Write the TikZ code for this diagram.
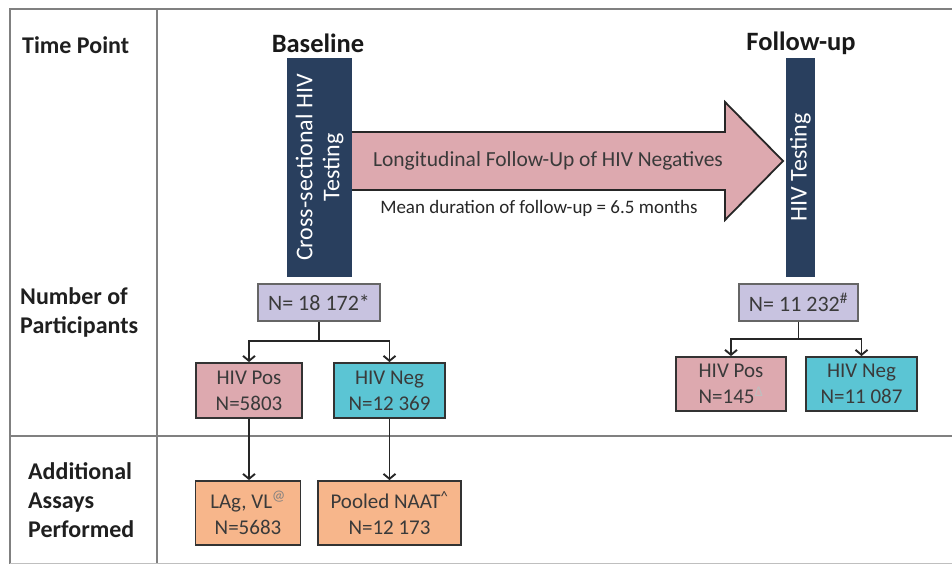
\documentclass[tikz,border=0pt]{standalone}
\usepackage{fontspec}
\setmainfont{Carlito}
\usetikzlibrary{arrows.meta}
\definecolor{navy}{HTML}{293F5E}
\definecolor{pinkc}{HTML}{DDA9AF}
\definecolor{lav}{HTML}{C8C3E0}
\definecolor{cyanc}{HTML}{5BC5D4}
\definecolor{orng}{HTML}{F7B68B}
\definecolor{framec}{HTML}{808080}
\definecolor{txt}{HTML}{3A3A3A}
\tikzset{
  frameline/.style={draw=framec, line width=2.2pt},
  hdr/.style={font=\fontsize{26.5}{30}\selectfont\bfseries, text=black!90},
  rowlbl/.style={font=\fontsize{24}{29}\selectfont\bfseries, text=black!88, align=left, anchor=west, inner sep=0pt},
  bar/.style={fill=navy, draw=none, inner sep=0pt},
  bartext/.style={font=\fontsize{24}{27}\selectfont, text=white, align=center, rotate=90},
  box/.style={draw=black!80, line width=1.8pt, inner sep=0pt, align=center, text=txt, font=\fontsize{21}{26}\selectfont},
  nbox/.style={box, fill=lav, draw=black!60, font=\fontsize{22}{26}\selectfont},
  posbox/.style={box, fill=pinkc},
  negbox/.style={box, fill=cyanc},
  assaybox/.style={box, fill=orng},
  conn/.style={draw=black!85, line width=1.9pt},
  arr/.style={conn, -{Straight Barb[length=5pt,width=12pt,line width=1.9pt]}},
}
\begin{document}
\begin{tikzpicture}[x=1pt,y=-1pt]
\useasboundingbox (0,0) rectangle (952,564);
% frame
\draw[frameline] (10,564) -- (10,9) -- (952,9);
\draw[frameline] (157,9) -- (157,564);
\draw[frameline] (10,436) -- (952,436);
\draw[draw=framec!50, line width=1pt] (10,563.5) -- (952,563.5);
% row labels
\node[rowlbl] (tp) at (22,45) {Time Point};
\node[rowlbl] (np) at (20,312.5) {Number of\\Participants};
\node[rowlbl] (aa) at (28,500.5) {Additional\\Assays\\Performed};
% headers
\node[hdr] (bl) at (318,43) {Baseline};
\node[hdr] (fu) at (801,43) {Follow-up};
% big arrow
\draw[fill=pinkc, draw=black!85, line width=1.8pt, line join=miter]
  (345,132) -- (725,132) -- (725,102) -- (783,161) -- (725,220) -- (725,190) -- (345,190) -- cycle;
\node[font=\fontsize{21.5}{25}\selectfont, text=txt] (lf) at (548,161) {Longitudinal Follow-Up of HIV Negatives};
\node[font=\fontsize{19}{22}\selectfont, text=black!85] (md) at (539,208) {Mean duration of follow-up = 6.5 months};
% bars
\node[bar, minimum width=65pt, minimum height=219pt] (b1) at (319.5,167.5) {};
\node[bartext] at (b1.center) {Cross-sectional HIV\\Testing};
\node[bar, minimum width=29pt, minimum height=219pt] (b2) at (800.5,167.5) {};
\node[bartext] at (b2.center) {HIV Testing};
% baseline boxes
\node[nbox, minimum width=122pt, minimum height=37pt] (nA) at (319,302.5) {N= 18 172*};
\node[posbox, minimum width=106pt, minimum height=55pt] (pos1) at (249,390.5) {HIV Pos\\N=5803};
\node[negbox, minimum width=111pt, minimum height=55pt] (neg1) at (389.5,390.5) {HIV Neg\\N=12 369};
\node[assaybox, minimum width=105pt, minimum height=64pt] (lag) at (248,513) {LAg, VL\textsuperscript{\textcolor{gray}{@}}\\N=5683};
\node[assaybox, minimum width=143pt, minimum height=64pt] (naat) at (389.5,513) {Pooled NAAT\textsuperscript{\textasciicircum}\\N=12 173};
% follow-up boxes
\node[nbox, minimum width=119pt, minimum height=37pt] (nB) at (798.5,302.5) {N= 11 232\textsuperscript{\#}};
\node[posbox, minimum width=110pt, minimum height=54pt] (pos2) at (731,384) {HIV Pos\\N=145\textsuperscript{\textcolor{lightgray}{Δ}}};
\node[negbox, minimum width=111pt, minimum height=54pt] (neg2) at (861.5,384) {HIV Neg\\N=11 087};
% connectors
\coordinate (j1) at (319,341);
\draw[conn] (nA.south) -- (j1);
\draw[arr] (j1) -| (pos1.north);
\draw[arr] (j1) -| (neg1.north);
\draw[arr] (pos1.south) -- (pos1.south |- lag.north);
\draw[arr] (neg1.south) -- (neg1.south |- naat.north);
\coordinate (j2) at (798.5,339);
\draw[conn] (nB.south) -- (j2);
\draw[arr] (j2) -| (pos2.north);
\draw[arr] (j2) -| (neg2.north);
\end{tikzpicture}
\end{document}
